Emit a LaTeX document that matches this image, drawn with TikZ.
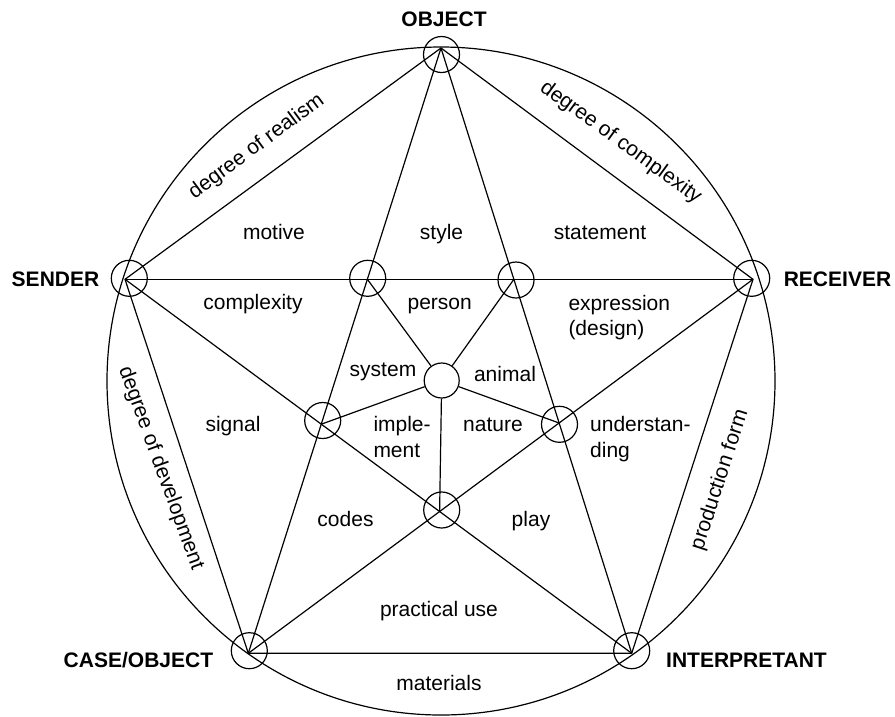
\documentclass[tikz,border=0pt]{standalone}
\usepackage{fontspec}
\setmainfont{Liberation Sans}
\begin{document}
\begin{tikzpicture}[x=1pt,y=-1pt,
  ln/.style={line width=1.2pt},
  ring/.style={circle, draw, line width=1.2pt, minimum size=36pt, inner sep=0pt},
  hub/.style={circle, draw, fill=white, line width=1.2pt, minimum size=35pt, inner sep=0pt},
  lbl/.style={font=\fontsize{21}{25}\selectfont, inner sep=0pt},
  blbl/.style={font=\fontsize{21}{25}\selectfont\bfseries, inner sep=0pt}
]
\useasboundingbox (0,0) rectangle (895,716);
% outer circle
\draw[ln] (441,381) circle[radius=334pt];
% pentagon vertices
\coordinate (O) at (441,48);
\coordinate (S) at (125,279.3);
\coordinate (R) at (753,279.3);
\coordinate (C) at (248.3,653.3);
\coordinate (I) at (631.7,653.3);
% inner crossing points
\coordinate (pTL) at (intersection of O--C and S--R);
\coordinate (pTR) at (intersection of O--I and S--R);
\coordinate (pBL) at (intersection of O--C and S--I);
\coordinate (pBR) at (intersection of O--I and R--C);
\coordinate (pB)  at (intersection of S--I and R--C);
% pentagon and star
\draw[ln] (O) -- (S) -- (C) -- (I) -- (R) -- cycle;
\draw[ln] (O) -- (C);
\draw[ln] (O) -- (I);
\draw[ln] (S) -- (R);
\draw[ln] (S) -- (I);
\draw[ln] (R) -- (C);
% rings
\node[ring] (rO) at (441.5,54.5) {};
\node[ring] (rS) at (129.3,278.3) {};
\node[ring] (rR) at (751.7,278.3) {};
\node[ring] (rC) at (249.3,650.7) {};
\node[ring] (rI) at (631.7,650.7) {};
\node[ring] (rTL) at (367.7,278.3) {};
\node[ring] (rTR) at (516,280) {};
\node[ring] (rBL) at (322.7,420.5) {};
\node[ring] (rBR) at (559.5,424.3) {};
\node[ring] (rB) at (441.7,510) {};
% hub and spokes
\node[hub] (hub) at (441.7,380.5) {};
\draw[ln] (hub) -- (pTL);
\draw[ln] (hub) -- (pTR);
\draw[ln] (hub) -- (pBL);
\draw[ln] (hub) -- (pBR);
\draw[ln] (hub) -- (pB);
% corner labels
\node[blbl, anchor=base] (tO) at (444,26.7) {OBJECT};
\node[blbl, anchor=base] (tS) at (55.5,286) {SENDER};
\node[blbl, anchor=base] (tR) at (837.5,286) {RECEIVER};
\node[blbl, anchor=base east] (tC) at (213.3,667.7) {CASE/OBJECT};
\node[blbl, anchor=base west] (tI) at (666,667.7) {INTERPRETANT};
% rim labels
\node[lbl, rotate=36.5] (tRe) at (256.7,146.7) {degree of realism};
\node[lbl, rotate=-36] (tCo) at (620.7,142.7) {degree of complexity};
\node[lbl, rotate=-70] (tDe) at (160.7,468.3) {degree of development};
\node[lbl, rotate=72] (tPr) at (720,480) {production form};
% field labels
\node[lbl, anchor=base] (l1) at (274,239.3) {motive};
\node[lbl, anchor=base] (l2) at (441.5,239.3) {style};
\node[lbl, anchor=base] (l3) at (600,239.3) {statement};
\node[lbl, anchor=base] (l4) at (253,309.3) {complexity};
\node[lbl, anchor=base] (l5) at (439.7,309.3) {person};
\node[lbl, anchor=base west] (l6a) at (568.3,310) {expression};
\node[lbl, anchor=base west] (l6b) at (568.3,335) {(design)};
\node[lbl, anchor=base] (l7) at (383,376) {system};
\node[lbl, anchor=base] (l8) at (505,381.7) {animal};
\node[lbl, anchor=base] (l9) at (233,431.7) {signal};
\node[lbl, anchor=base west] (l10a) at (373.3,431.7) {imple-};
\node[lbl, anchor=base west] (l10b) at (373.3,457) {ment};
\node[lbl, anchor=base] (l11) at (493,431.7) {nature};
\node[lbl, anchor=base west] (l12a) at (590,431.7) {understan-};
\node[lbl, anchor=base west] (l12b) at (590,457) {ding};
\node[lbl, anchor=base] (l13) at (345.5,526) {codes};
\node[lbl, anchor=base] (l14) at (531,526) {play};
\node[lbl, anchor=base] (l15) at (439,616) {practical use};
\node[lbl, anchor=base] (l16) at (439,690.7) {materials};
\end{tikzpicture}
\end{document}
